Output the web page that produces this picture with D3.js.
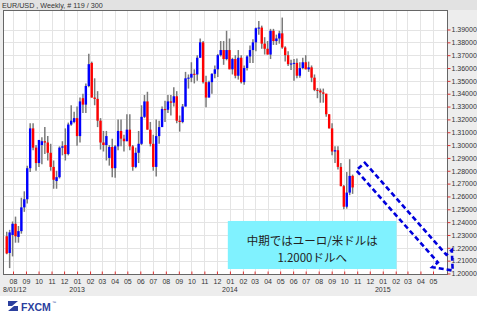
<!DOCTYPE html>
<html>
<head>
<meta charset="utf-8">
<script src="https://cdn.jsdelivr.net/npm/d3@7"></script>
<style>
  body { margin: 0; background: #fff; }
  svg { display: block; font-family: "Liberation Sans", Arial, sans-serif; }
</style>
</head>
<body>
<svg id="chart" width="477" height="318"></svg>
<script>
// weekly EUR/USD, first week starts Mon 2012-07-16
const firstWeek = new Date(2012, 6, 16);
const opens = [
  1.2290,1.2160,1.2300,1.2387,1.2285,1.2330,1.2515,1.2578,1.2820,1.3130,1.2980,1.2860,1.3000,1.3030,1.3020,1.2940,1.2830,1.2720,1.2750,1.2980,1.3000,1.2930,1.3160,1.3180,1.3210,
  1.3070,1.3365,1.3315,1.3460,1.3640,1.3370,1.3360,1.3190,1.3020,1.3000,1.2900,1.2985,1.2820,1.2990,1.3110,1.3050,1.3030,1.3120,1.2990,1.2830,1.2940,1.3010,1.3220,1.3340,1.3120,1.3010,1.2830,1.3070,1.3140,1.3280,1.3275,1.3340,1.3330,1.3380,1.3190,1.3180,1.3300,1.3520,1.3525,1.3555,1.3550,1.3680,1.3800,1.3490,1.3370,1.3490,1.3555,1.3590,1.3700,1.3740,1.3670,1.3740,
  1.3590,1.3670,1.3540,1.3680,1.3490,1.3600,1.3690,1.3740,1.3800,1.3910,1.3915,1.3790,1.3750,1.3705,1.3890,1.3810,1.3830,1.3870,1.3760,1.3700,1.3630,1.3635,1.3640,1.3540,1.3600,1.3645,1.3590,1.3605,1.3525,1.3430,1.3425,1.3410,1.3400,1.3240,1.3130,1.2950,1.2960,1.2830,1.2680,1.2520,1.2630,1.2760
];
const highs = [
  1.2325,1.2340,1.2405,1.2443,1.2370,1.2590,1.2640,1.2840,1.3170,1.3170,1.3000,1.3040,1.3060,1.3140,1.3070,1.3010,1.2880,1.2800,1.2990,1.3030,1.3130,1.3175,1.3310,1.3260,1.3300,
  1.3370,1.3400,1.3480,1.3711,1.3650,1.3520,1.3420,1.3210,1.3110,1.3110,1.3000,1.3050,1.3000,1.3200,1.3200,1.3080,1.3240,1.3240,1.3000,1.2980,1.3110,1.3310,1.3390,1.3415,1.3180,1.3080,1.3200,1.3190,1.3300,1.3345,1.3390,1.3390,1.3450,1.3420,1.3230,1.3320,1.3570,1.3550,1.3645,1.3590,1.3700,1.3830,1.3810,1.3540,1.3500,1.3560,1.3620,1.3710,1.3810,1.3810,1.3890,1.3830,
  1.3680,1.3700,1.3740,1.3700,1.3620,1.3700,1.3775,1.3825,1.3915,1.3966,1.3930,1.3840,1.3810,1.3905,1.3905,1.3860,1.3890,1.3993,1.3770,1.3730,1.3665,1.3670,1.3675,1.3645,1.3680,1.3700,1.3650,1.3620,1.3550,1.3445,1.3440,1.3440,1.3400,1.3240,1.3170,1.2990,1.2990,1.2860,1.2690,1.2790,1.2890,1.2770
];
const lows = [
  1.2150,1.2042,1.2133,1.2240,1.2240,1.2310,1.2480,1.2545,1.2790,1.2960,1.2800,1.2830,1.2850,1.2930,1.2880,1.2800,1.2660,1.2660,1.2740,1.2920,1.2880,1.2920,1.3150,1.3170,1.2995,
  1.3020,1.3250,1.3250,1.3450,1.3370,1.3310,1.3140,1.2965,1.2950,1.2880,1.2840,1.2750,1.2745,1.2960,1.2990,1.2950,1.3030,1.2960,1.2800,1.2820,1.2860,1.3000,1.3210,1.3120,1.2990,1.2800,1.2755,1.3010,1.3140,1.3180,1.3250,1.3230,1.3300,1.3170,1.3105,1.3170,1.3300,1.3440,1.3490,1.3480,1.3500,1.3680,1.3480,1.3295,1.3370,1.3400,1.3520,1.3530,1.3690,1.3625,1.3660,1.3590,
  1.3550,1.3520,1.3510,1.3480,1.3470,1.3580,1.3640,1.3640,1.3730,1.3860,1.3750,1.3705,1.3705,1.3670,1.3780,1.3780,1.3790,1.3750,1.3650,1.3615,1.3585,1.3500,1.3520,1.3525,1.3590,1.3590,1.3570,1.3490,1.3420,1.3365,1.3330,1.3330,1.3220,1.3130,1.2920,1.2860,1.2810,1.2680,1.2500,1.2505,1.2610,1.2620
];
const closes = [
  1.2156,1.2320,1.2387,1.2290,1.2330,1.2515,1.2578,1.2820,1.3130,1.2980,1.2860,1.3040,1.3030,1.3020,1.2940,1.2830,1.2730,1.2750,1.2980,1.2990,1.2930,1.3160,1.3190,1.3210,1.3070,
  1.3340,1.3315,1.3460,1.3630,1.3370,1.3360,1.3190,1.3020,1.3000,1.3070,1.2985,1.2820,1.2990,1.3110,1.3050,1.3030,1.3120,1.2990,1.2830,1.2940,1.3010,1.3220,1.3340,1.3120,1.3010,1.2830,1.3070,1.3140,1.3280,1.3275,1.3340,1.3330,1.3380,1.3190,1.3180,1.3300,1.3520,1.3525,1.3555,1.3550,1.3680,1.3800,1.3490,1.3370,1.3490,1.3555,1.3590,1.3700,1.3740,1.3670,1.3740,1.3590,
  1.3670,1.3540,1.3680,1.3490,1.3600,1.3690,1.3740,1.3800,1.3910,1.3915,1.3790,1.3750,1.3705,1.3890,1.3810,1.3830,1.3870,1.3760,1.3700,1.3630,1.3635,1.3640,1.3540,1.3600,1.3645,1.3590,1.3605,1.3525,1.3430,1.3425,1.3410,1.3400,1.3240,1.3130,1.2950,1.2960,1.2830,1.2680,1.2520,1.2630,1.2760,1.2670
];
const yTicks = [1.20,1.21,1.22,1.23,1.24,1.25,1.26,1.27,1.28,1.29,1.30,1.31,1.32,1.33,1.34,1.35,1.36,1.37,1.38,1.39];
const years = [2013, 2014, 2015];
const titleText = "EUR/USD , Weekly, # 119 / 300";
const startLabel = "8/01/12";
const noteLines = ["中期ではユーロ/米ドルは", "1.2000ドルへ"];
// forecast arrow + note box, in chart units
const arrowFrom = {date: new Date(2014, 10, 9), price: 1.2833};
const arrowTo = {date: new Date(2015, 5, 17), price: 1.2023};
const noteBox = {from: new Date(2013, 11, 27), to: new Date(2015, 1, 3), top: 1.2409, bottom: 1.2035};

const svg = d3.select("#chart");
const W = 477, H = 318;
const plot = {left: 3, top: 10, right: 447, bottom: 274};

const x = d3.scaleTime()
    .domain([new Date(2012, 7, 1), new Date(2015, 4, 1)])
    .range([13, 433]);
const y = d3.scaleLinear()
    .domain([1.20, 1.39])
    .range([273.5, 29.5]);

const weeks = d3.range(opens.length).map(i => d3.timeDay.offset(d3.timeWeek.offset(firstWeek, i), 1));
const months = d3.timeMonth.range(new Date(2012, 7, 1), new Date(2015, 5, 1));

// backgrounds
svg.append("rect").attr("width", W).attr("height", 296).attr("fill", "#ededed");
svg.append("rect").attr("width", W).attr("height", 10).attr("fill", "#e2e2e2");
svg.append("rect")
    .attr("x", plot.left).attr("y", plot.top)
    .attr("width", plot.right - plot.left).attr("height", plot.bottom - plot.top)
    .attr("fill", "#fff");

svg.append("text")
    .attr("x", 2).attr("y", 8)
    .attr("font-size", 7.2).attr("fill", "#333")
    .text(titleText);

// grid
const grid = svg.append("g").attr("stroke", "#e4e4e4").attr("stroke-width", 1);
grid.selectAll(".vg").data(months.filter(m => x(m) < plot.right)).join("line")
    .attr("x1", d => Math.round(x(d)) + 0.5).attr("x2", d => Math.round(x(d)) + 0.5)
    .attr("y1", plot.top).attr("y2", plot.bottom);
grid.selectAll(".hg").data(yTicks).join("line")
    .attr("x1", plot.left).attr("x2", plot.right)
    .attr("y1", d => Math.round(y(d)) + 0.5).attr("y2", d => Math.round(y(d)) + 0.5);

// candles
const candles = svg.append("g");
candles.selectAll("line").data(weeks).join("line")
    .attr("x1", d => x(d)).attr("x2", d => x(d))
    .attr("y1", (d, i) => y(highs[i])).attr("y2", (d, i) => y(lows[i]))
    .attr("stroke", "#7a7a7a").attr("stroke-width", 1.5);
candles.selectAll("rect").data(weeks).join("rect")
    .attr("x", d => x(d) - 1.2).attr("width", 2.4)
    .attr("y", (d, i) => y(Math.max(opens[i], closes[i])))
    .attr("height", (d, i) => Math.max(1, Math.abs(y(opens[i]) - y(closes[i]))))
    .attr("fill", (d, i) => closes[i] >= opens[i] ? "#0000ff" : "#ff0000");

// frame
svg.append("rect")
    .attr("x", plot.left + 0.5).attr("y", plot.top + 0.5)
    .attr("width", plot.right - plot.left).attr("height", plot.bottom - plot.top)
    .attr("fill", "none").attr("stroke", "#666");

// axes
const yAxis = svg.append("g")
    .attr("transform", `translate(${plot.right + 0.5},0)`)
    .call(d3.axisRight(y).tickValues(yTicks).tickSize(3).tickPadding(1).tickFormat(d3.format(".5f")));
const xAxis = svg.append("g")
    .attr("transform", `translate(0,${plot.bottom + 0.5})`)
    .call(d3.axisBottom(x).tickValues(months).tickSize(-3).tickPadding(5).tickFormat(d3.timeFormat("%m")));
[yAxis, xAxis].forEach(a => {
    a.select(".domain").remove();
    a.selectAll(".tick line").attr("stroke", "#e03030");
    a.selectAll("text").attr("font-size", 7).attr("fill", "#333").attr("font-family", "Liberation Sans, Arial, sans-serif");
});
xAxis.selectAll(".tick").filter(d => x(d) > plot.right).remove();

svg.append("text").attr("x", 3).attr("y", 292)
    .attr("font-size", 7).attr("fill", "#333").text(startLabel);
svg.selectAll(".yr").data(years).join("text")
    .attr("x", d => x(new Date(d, 0, 1))).attr("y", 292)
    .attr("text-anchor", "middle").attr("font-size", 7).attr("fill", "#333")
    .text(d => d);

// note box
svg.append("rect")
    .attr("x", x(noteBox.from)).attr("y", y(noteBox.top))
    .attr("width", x(noteBox.to) - x(noteBox.from)).attr("height", y(noteBox.bottom) - y(noteBox.top))
    .attr("fill", "#80f2ff");
const cx = (x(noteBox.from) + x(noteBox.to)) / 2;
svg.selectAll(".note").data(noteLines).join("text")
    .attr("x", cx).attr("y", (d, i) => y(noteBox.top) + 24 + i * 17)
    .attr("text-anchor", "middle")
    .attr("font-family", "Noto Sans CJK JP, sans-serif")
    .attr("font-size", 11.5).attr("fill", "#222")
    .text(d => d);

// forecast arrow (dashed block arrow)
const t0 = [x(arrowFrom.date), y(arrowFrom.price)];
const t1 = [x(arrowTo.date), y(arrowTo.price)];
const len = Math.hypot(t1[0] - t0[0], t1[1] - t0[1]);
const u = [(t1[0] - t0[0]) / len, (t1[1] - t0[1]) / len];
const n = [u[1], -u[0]];
const sw = 5.7, hw = 13, hl = 16;
const at = (p, a, b) => [p[0] - u[0] * a + n[0] * b, p[1] - u[1] * a + n[1] * b];
const arrowPts = [at(t0, 0, sw), at(t1, hl, sw), at(t1, hl, hw), t1, at(t1, hl, -hw), at(t1, hl, -sw), at(t0, 0, -sw)];
svg.append("path")
    .attr("d", d3.line()(arrowPts) + "Z")
    .attr("fill", "none").attr("stroke", "#0000dd")
    .attr("stroke-width", 2.6).attr("stroke-dasharray", "5,3");

// logo
const logo = svg.append("g").attr("transform", "translate(8,301)");
logo.append("path").attr("d", "M0,0 L10,0 L4,5 L10,5 L10,10 L0,10 L6,5 L0,5 Z").attr("fill", "#2b3f9e");
logo.append("text").attr("x", 13).attr("y", 10)
    .attr("font-size", 10.5).attr("font-weight", "bold")
    .attr("fill", "#2b3f9e").text("FXCM");
logo.append("text").attr("x", 44).attr("y", 3).attr("font-size", 4).attr("fill", "#2b3f9e").text("™");
</script>
</body>
</html>
